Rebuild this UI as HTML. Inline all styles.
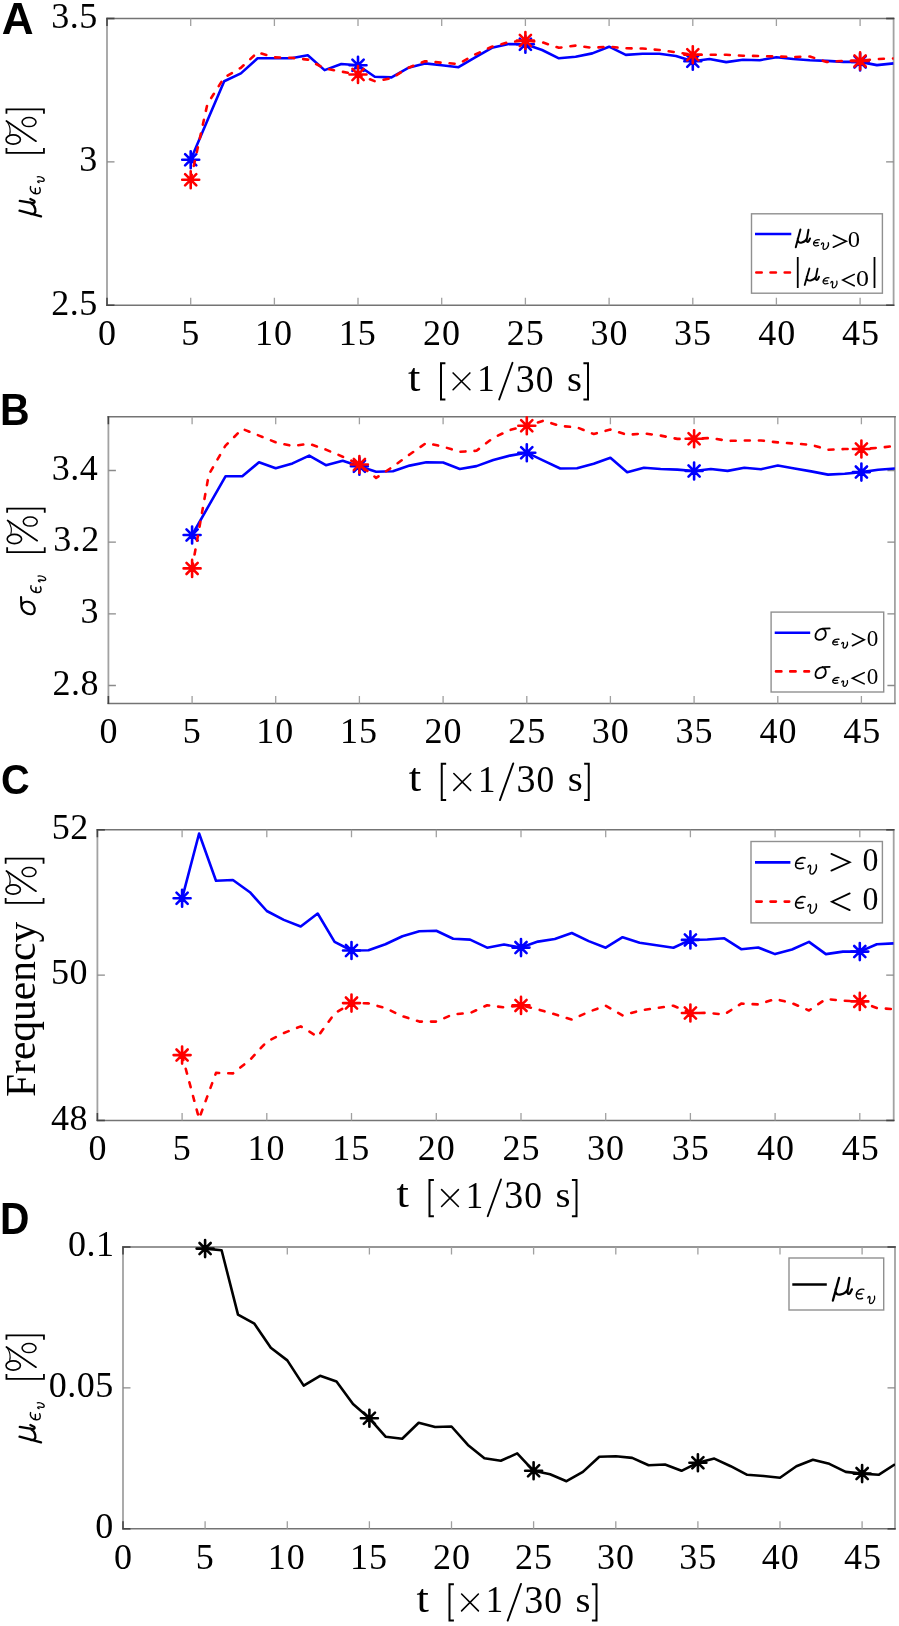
<!DOCTYPE html>
<html><head><meta charset="utf-8"><style>
html,body{margin:0;padding:0;background:#fff;width:899px;height:1626px;overflow:hidden}
svg{display:block;will-change:transform}
text{font-kerning:none}
.fr{font-family:"Liberation Serif",serif;font-size:100px;fill:#000}
.fi{font-family:"Liberation Serif",serif;font-style:italic;font-size:100px;fill:#000}
.fb{font-family:"Liberation Sans",sans-serif;font-weight:bold;font-size:100px;fill:#000}
</style></head><body>
<svg width="899" height="1626" viewBox="0 0 899 1626"><defs><clipPath id="cA"><rect x="107.0" y="6.5" width="786.6" height="298.8"/></clipPath><clipPath id="cB"><rect x="108.4" y="404.8" width="786.5" height="298.6"/></clipPath><clipPath id="cC"><rect x="97.4" y="817.8" width="796.3" height="302.6"/></clipPath><clipPath id="cD"><rect x="123.0" y="1235.0" width="772.0" height="293.8"/></clipPath></defs>
<text class="fb" transform="matrix(0.44120 0 0 0.43605 1.70 34.00)">A</text>
<text class="fb" transform="matrix(0.40993 0 0 0.43605 -0.04 424.70)">B</text>
<text class="fb" transform="matrix(0.39767 0 0 0.43361 1.07 794.48)">C</text>
<text class="fb" transform="matrix(0.40764 0 0 0.43751 -0.03 1234.10)">D</text>
<path d="M107.0 17.8V306.0M893.6 17.8V306.0" stroke="#a2a2a2" stroke-width="1.8" fill="none"/>
<path d="M106.1 18.5H894.5M106.1 305.3H894.5" stroke="#747474" stroke-width="1.5" fill="none"/>
<path d="M107.0 305.3V297.8M107.0 18.5V26.0M190.7 305.3V297.8M190.7 18.5V26.0M274.4 305.3V297.8M274.4 18.5V26.0M358.0 305.3V297.8M358.0 18.5V26.0M441.7 305.3V297.8M441.7 18.5V26.0M525.4 305.3V297.8M525.4 18.5V26.0M609.1 305.3V297.8M609.1 18.5V26.0M692.8 305.3V297.8M692.8 18.5V26.0M776.4 305.3V297.8M776.4 18.5V26.0M860.1 305.3V297.8M860.1 18.5V26.0" stroke="#a0a0a0" stroke-width="1.3" fill="none"/>
<path d="M107.0 305.3H114.5M893.6 305.3H886.1M107.0 161.9H114.5M893.6 161.9H886.1M107.0 18.5H114.5M893.6 18.5H886.1" stroke="#8a8a8a" stroke-width="1.3" fill="none"/>
<path d="M107.0 18.0V26.0M107.0 305.8V297.8M106.5 305.3H114.5M894.1 305.3H886.1M106.5 18.5H114.5M894.1 18.5H886.1" stroke="#444" stroke-width="1.5" fill="none"/>
<text class="fr" style="font-size:36.00px" letter-spacing="1.00" x="98.00" y="345.20">0</text>
<text class="fr" style="font-size:36.00px" letter-spacing="1.00" x="181.34" y="345.20">5</text>
<text class="fr" style="font-size:36.00px" letter-spacing="1.00" x="254.97" y="345.20">10</text>
<text class="fr" style="font-size:36.00px" letter-spacing="1.00" x="338.66" y="345.20">15</text>
<text class="fr" style="font-size:36.00px" letter-spacing="1.00" x="423.12" y="345.20">20</text>
<text class="fr" style="font-size:36.00px" letter-spacing="1.00" x="506.82" y="345.20">25</text>
<text class="fr" style="font-size:36.00px" letter-spacing="1.00" x="590.41" y="345.20">30</text>
<text class="fr" style="font-size:36.00px" letter-spacing="1.00" x="674.11" y="345.20">35</text>
<text class="fr" style="font-size:36.00px" letter-spacing="1.00" x="758.28" y="345.20">40</text>
<text class="fr" style="font-size:36.00px" letter-spacing="1.00" x="841.98" y="345.20">45</text>
<text class="fr" style="font-size:36.00px" letter-spacing="0.50" x="51.21" y="314.50">2.5</text>
<text class="fr" style="font-size:36.00px" letter-spacing="0.50" x="79.21" y="171.10">3</text>
<text class="fr" style="font-size:36.00px" letter-spacing="0.50" x="51.21" y="27.70">3.5</text>
<path d="M108.4 416.1V704.1M894.9 416.1V704.1" stroke="#a2a2a2" stroke-width="1.8" fill="none"/>
<path d="M107.5 416.8H895.8M107.5 703.4H895.8" stroke="#747474" stroke-width="1.5" fill="none"/>
<path d="M108.4 703.4V695.9M108.4 416.8V424.3M192.1 703.4V695.9M192.1 416.8V424.3M275.7 703.4V695.9M275.7 416.8V424.3M359.4 703.4V695.9M359.4 416.8V424.3M443.1 703.4V695.9M443.1 416.8V424.3M526.8 703.4V695.9M526.8 416.8V424.3M610.4 703.4V695.9M610.4 416.8V424.3M694.1 703.4V695.9M694.1 416.8V424.3M777.8 703.4V695.9M777.8 416.8V424.3M861.4 703.4V695.9M861.4 416.8V424.3" stroke="#a0a0a0" stroke-width="1.3" fill="none"/>
<path d="M108.4 685.5H115.9M894.9 685.5H887.4M108.4 613.8H115.9M894.9 613.8H887.4M108.4 542.2H115.9M894.9 542.2H887.4M108.4 470.5H115.9M894.9 470.5H887.4" stroke="#8a8a8a" stroke-width="1.3" fill="none"/>
<path d="M108.4 416.3V424.3M108.4 703.9V695.9" stroke="#444" stroke-width="1.5" fill="none"/>
<text class="fr" style="font-size:36.00px" letter-spacing="1.00" x="99.40" y="743.30">0</text>
<text class="fr" style="font-size:36.00px" letter-spacing="1.00" x="182.73" y="743.30">5</text>
<text class="fr" style="font-size:36.00px" letter-spacing="1.00" x="256.34" y="743.30">10</text>
<text class="fr" style="font-size:36.00px" letter-spacing="1.00" x="340.03" y="743.30">15</text>
<text class="fr" style="font-size:36.00px" letter-spacing="1.00" x="424.48" y="743.30">20</text>
<text class="fr" style="font-size:36.00px" letter-spacing="1.00" x="508.16" y="743.30">25</text>
<text class="fr" style="font-size:36.00px" letter-spacing="1.00" x="591.75" y="743.30">30</text>
<text class="fr" style="font-size:36.00px" letter-spacing="1.00" x="675.43" y="743.30">35</text>
<text class="fr" style="font-size:36.00px" letter-spacing="1.00" x="759.60" y="743.30">40</text>
<text class="fr" style="font-size:36.00px" letter-spacing="1.00" x="843.28" y="743.30">45</text>
<text class="fr" style="font-size:36.00px" letter-spacing="0.50" x="52.57" y="694.69">2.8</text>
<text class="fr" style="font-size:36.00px" letter-spacing="0.50" x="80.61" y="623.04">3</text>
<text class="fr" style="font-size:36.00px" letter-spacing="0.50" x="53.19" y="551.39">3.2</text>
<text class="fr" style="font-size:36.00px" letter-spacing="0.50" x="51.76" y="479.74">3.4</text>
<path d="M97.4 829.1V1121.1M893.7 829.1V1121.1" stroke="#a2a2a2" stroke-width="1.8" fill="none"/>
<path d="M96.5 829.8H894.6M96.5 1120.4H894.6" stroke="#747474" stroke-width="1.5" fill="none"/>
<path d="M97.4 1120.4V1112.9M97.4 829.8V837.3M182.1 1120.4V1112.9M182.1 829.8V837.3M266.8 1120.4V1112.9M266.8 829.8V837.3M351.5 1120.4V1112.9M351.5 829.8V837.3M436.3 1120.4V1112.9M436.3 829.8V837.3M521.0 1120.4V1112.9M521.0 829.8V837.3M605.7 1120.4V1112.9M605.7 829.8V837.3M690.4 1120.4V1112.9M690.4 829.8V837.3M775.1 1120.4V1112.9M775.1 829.8V837.3M859.8 1120.4V1112.9M859.8 829.8V837.3" stroke="#a0a0a0" stroke-width="1.3" fill="none"/>
<path d="M97.4 1120.4H104.9M893.7 1120.4H886.2M97.4 975.1H104.9M893.7 975.1H886.2M97.4 829.8H104.9M893.7 829.8H886.2" stroke="#8a8a8a" stroke-width="1.3" fill="none"/>
<path d="M97.4 829.3V837.3M97.4 1120.9V1112.9M96.9 1120.4H104.9M894.2 1120.4H886.2M96.9 829.8H104.9M894.2 829.8H886.2" stroke="#444" stroke-width="1.5" fill="none"/>
<text class="fr" style="font-size:36.00px" letter-spacing="1.00" x="88.40" y="1160.30">0</text>
<text class="fr" style="font-size:36.00px" letter-spacing="1.00" x="172.77" y="1160.30">5</text>
<text class="fr" style="font-size:36.00px" letter-spacing="1.00" x="247.43" y="1160.30">10</text>
<text class="fr" style="font-size:36.00px" letter-spacing="1.00" x="332.16" y="1160.30">15</text>
<text class="fr" style="font-size:36.00px" letter-spacing="1.00" x="417.65" y="1160.30">20</text>
<text class="fr" style="font-size:36.00px" letter-spacing="1.00" x="502.38" y="1160.30">25</text>
<text class="fr" style="font-size:36.00px" letter-spacing="1.00" x="587.00" y="1160.30">30</text>
<text class="fr" style="font-size:36.00px" letter-spacing="1.00" x="671.73" y="1160.30">35</text>
<text class="fr" style="font-size:36.00px" letter-spacing="1.00" x="756.94" y="1160.30">40</text>
<text class="fr" style="font-size:36.00px" letter-spacing="1.00" x="841.67" y="1160.30">45</text>
<text class="fr" style="font-size:36.00px" letter-spacing="0.50" x="51.07" y="1129.60">48</text>
<text class="fr" style="font-size:36.00px" letter-spacing="0.50" x="51.07" y="984.30">50</text>
<text class="fr" style="font-size:36.00px" letter-spacing="0.50" x="51.69" y="839.00">52</text>
<path d="M123.0 1246.3V1529.5M895.0 1246.3V1529.5" stroke="#a2a2a2" stroke-width="1.8" fill="none"/>
<path d="M122.1 1247.0H895.9M122.1 1528.8H895.9" stroke="#747474" stroke-width="1.5" fill="none"/>
<path d="M123.0 1528.8V1521.3M123.0 1247.0V1254.5M205.1 1528.8V1521.3M205.1 1247.0V1254.5M287.3 1528.8V1521.3M287.3 1247.0V1254.5M369.4 1528.8V1521.3M369.4 1247.0V1254.5M451.5 1528.8V1521.3M451.5 1247.0V1254.5M533.6 1528.8V1521.3M533.6 1247.0V1254.5M615.8 1528.8V1521.3M615.8 1247.0V1254.5M697.9 1528.8V1521.3M697.9 1247.0V1254.5M780.0 1528.8V1521.3M780.0 1247.0V1254.5M862.1 1528.8V1521.3M862.1 1247.0V1254.5" stroke="#a0a0a0" stroke-width="1.3" fill="none"/>
<path d="M123.0 1528.8H130.5M895.0 1528.8H887.5M123.0 1387.9H130.5M895.0 1387.9H887.5M123.0 1247.0H130.5M895.0 1247.0H887.5" stroke="#8a8a8a" stroke-width="1.3" fill="none"/>
<path d="M123.0 1246.5V1254.5M123.0 1529.3V1521.3M122.5 1528.8H130.5M895.5 1528.8H887.5M122.5 1247.0H130.5M895.5 1247.0H887.5" stroke="#444" stroke-width="1.5" fill="none"/>
<text class="fr" style="font-size:36.00px" letter-spacing="1.00" x="114.00" y="1568.70">0</text>
<text class="fr" style="font-size:36.00px" letter-spacing="1.00" x="195.78" y="1568.70">5</text>
<text class="fr" style="font-size:36.00px" letter-spacing="1.00" x="267.86" y="1568.70">10</text>
<text class="fr" style="font-size:36.00px" letter-spacing="1.00" x="350.00" y="1568.70">15</text>
<text class="fr" style="font-size:36.00px" letter-spacing="1.00" x="432.91" y="1568.70">20</text>
<text class="fr" style="font-size:36.00px" letter-spacing="1.00" x="515.05" y="1568.70">25</text>
<text class="fr" style="font-size:36.00px" letter-spacing="1.00" x="597.09" y="1568.70">30</text>
<text class="fr" style="font-size:36.00px" letter-spacing="1.00" x="679.24" y="1568.70">35</text>
<text class="fr" style="font-size:36.00px" letter-spacing="1.00" x="761.86" y="1568.70">40</text>
<text class="fr" style="font-size:36.00px" letter-spacing="1.00" x="844.00" y="1568.70">45</text>
<text class="fr" style="font-size:36.00px" letter-spacing="0.50" x="95.17" y="1538.00">0</text>
<text class="fr" style="font-size:36.00px" letter-spacing="0.50" x="48.71" y="1397.10">0.05</text>
<text class="fr" style="font-size:36.00px" letter-spacing="0.50" x="67.96" y="1256.20">0.1</text>
<g clip-path="url(#cA)">
<polyline points="190.7,159.7 207.4,120.4 224.2,81.2 240.9,73.4 257.6,58.3 274.4,58.3 291.1,58.3 307.8,55.2 324.6,70.1 341.3,64.0 358.0,65.2 374.8,76.7 391.5,77.4 408.3,67.8 425.0,63.4 441.7,65.2 458.5,67.2 475.2,57.4 491.9,47.8 508.7,44.0 525.4,44.3 542.1,50.0 558.9,58.3 575.6,56.7 592.3,53.4 609.1,46.7 625.8,54.9 642.6,53.8 659.3,53.8 676.0,56.0 692.8,61.3 709.5,59.0 726.2,62.1 743.0,59.7 759.7,60.2 776.4,57.3 793.2,59.0 809.9,60.2 826.7,60.9 843.4,61.9 860.1,61.9 876.9,65.1 893.6,63.4" fill="none" stroke="#0000ff" stroke-width="2.6" stroke-linejoin="round"/>
<path d="M182.2 159.7H199.2M190.7 151.2V168.2M185.1 154.1L196.3 165.3M185.1 165.3L196.3 154.1" stroke="#0000ff" stroke-width="2.6" stroke-linecap="round" fill="none"/>
<path d="M349.5 65.2H366.5M358.0 56.7V73.7M352.4 59.6L363.7 70.8M352.4 70.8L363.7 59.6" stroke="#0000ff" stroke-width="2.6" stroke-linecap="round" fill="none"/>
<path d="M516.9 44.3H533.9M525.4 35.8V52.8M519.8 38.7L531.0 49.9M519.8 49.9L531.0 38.7" stroke="#0000ff" stroke-width="2.6" stroke-linecap="round" fill="none"/>
<path d="M684.3 61.3H701.3M692.8 52.8V69.8M687.2 55.7L698.4 66.9M687.2 66.9L698.4 55.7" stroke="#0000ff" stroke-width="2.6" stroke-linecap="round" fill="none"/>
<path d="M851.6 61.9H868.6M860.1 53.4V70.4M854.5 56.3L865.7 67.5M854.5 67.5L865.7 56.3" stroke="#0000ff" stroke-width="2.6" stroke-linecap="round" fill="none"/>
<polyline points="190.7,179.7 207.4,104.0 224.2,77.5 240.9,67.8 257.6,52.3 274.4,57.4 291.1,57.8 307.8,59.6 324.6,68.5 341.3,71.6 358.0,74.5 374.8,81.2 391.5,78.3 408.3,67.8 425.0,61.2 441.7,62.7 458.5,64.0 475.2,54.5 491.9,46.7 508.7,42.2 525.4,40.5 542.1,42.2 558.9,47.8 575.6,45.6 592.3,47.8 609.1,46.7 625.8,48.3 642.6,48.5 659.3,50.0 676.0,52.3 692.8,54.8 709.5,54.8 726.2,54.8 743.0,55.8 759.7,56.0 776.4,56.5 793.2,57.0 809.9,56.5 826.7,61.9 843.4,60.9 860.1,60.9 876.9,59.0 893.6,58.5" fill="none" stroke="#ff0000" stroke-width="2.6" stroke-linejoin="round" stroke-dasharray="5,9.1" stroke-linecap="round"/>
<path d="M182.2 179.7H199.2M190.7 171.2V188.2M185.1 174.1L196.3 185.3M185.1 185.3L196.3 174.1" stroke="#ff0000" stroke-width="2.6" stroke-linecap="round" fill="none"/>
<path d="M349.5 74.5H366.5M358.0 66.0V83.0M352.4 68.9L363.7 80.1M352.4 80.1L363.7 68.9" stroke="#ff0000" stroke-width="2.6" stroke-linecap="round" fill="none"/>
<path d="M516.9 40.5H533.9M525.4 32.0V49.0M519.8 34.9L531.0 46.1M519.8 46.1L531.0 34.9" stroke="#ff0000" stroke-width="2.6" stroke-linecap="round" fill="none"/>
<path d="M684.3 54.8H701.3M692.8 46.3V63.3M687.2 49.2L698.4 60.4M687.2 60.4L698.4 49.2" stroke="#ff0000" stroke-width="2.6" stroke-linecap="round" fill="none"/>
<path d="M851.6 60.9H868.6M860.1 52.4V69.4M854.5 55.3L865.7 66.5M854.5 66.5L865.7 55.3" stroke="#ff0000" stroke-width="2.6" stroke-linecap="round" fill="none"/>
</g>
<g clip-path="url(#cB)">
<polyline points="192.1,535.0 208.8,505.6 225.5,476.3 242.3,476.3 259.0,462.3 275.7,468.3 292.5,463.4 309.2,455.6 325.9,465.2 342.7,460.7 359.4,466.2 376.1,471.8 392.9,471.2 409.6,465.6 426.3,462.3 443.1,462.5 459.8,469.0 476.5,466.1 493.3,460.0 510.0,455.6 526.8,452.7 543.5,460.7 560.2,468.5 577.0,468.3 593.7,463.8 610.4,457.8 627.2,472.3 643.9,467.8 660.6,469.0 677.4,469.6 694.1,471.0 710.8,469.0 727.6,470.9 744.3,467.7 761.0,469.2 777.8,465.5 794.5,468.5 811.2,471.4 828.0,474.6 844.7,473.8 861.4,472.1 878.2,469.7 894.9,468.5" fill="none" stroke="#0000ff" stroke-width="2.6" stroke-linejoin="round"/>
<path d="M183.6 535.0H200.6M192.1 526.5V543.5M186.5 529.4L197.7 540.6M186.5 540.6L197.7 529.4" stroke="#0000ff" stroke-width="2.6" stroke-linecap="round" fill="none"/>
<path d="M350.9 466.2H367.9M359.4 457.7V474.7M353.8 460.6L365.0 471.8M353.8 471.8L365.0 460.6" stroke="#0000ff" stroke-width="2.6" stroke-linecap="round" fill="none"/>
<path d="M518.3 452.7H535.3M526.8 444.2V461.2M521.1 447.1L532.4 458.3M521.1 458.3L532.4 447.1" stroke="#0000ff" stroke-width="2.6" stroke-linecap="round" fill="none"/>
<path d="M685.6 471.0H702.6M694.1 462.5V479.5M688.5 465.4L699.7 476.6M688.5 476.6L699.7 465.4" stroke="#0000ff" stroke-width="2.6" stroke-linecap="round" fill="none"/>
<path d="M852.9 472.1H869.9M861.4 463.6V480.6M855.8 466.5L867.0 477.7M855.8 477.7L867.0 466.5" stroke="#0000ff" stroke-width="2.6" stroke-linecap="round" fill="none"/>
<polyline points="192.1,568.4 208.8,474.5 225.5,445.6 242.3,428.9 259.0,435.6 275.7,442.3 292.5,446.0 309.2,443.8 325.9,449.6 342.7,456.7 359.4,464.5 376.1,477.9 392.9,466.7 409.6,454.5 426.3,442.9 443.1,446.7 459.8,451.8 476.5,450.7 493.3,437.8 510.0,430.0 526.8,425.8 543.5,420.7 560.2,426.0 577.0,427.4 593.7,434.0 610.4,429.6 627.2,434.9 643.9,433.4 660.6,435.6 677.4,438.9 694.1,438.8 710.8,438.0 727.6,440.9 744.3,440.5 761.0,440.5 777.8,442.4 794.5,443.6 811.2,444.8 828.0,449.7 844.7,449.0 861.4,449.0 878.2,447.8 894.9,446.0" fill="none" stroke="#ff0000" stroke-width="2.6" stroke-linejoin="round" stroke-dasharray="5,9.1" stroke-linecap="round"/>
<path d="M183.6 568.4H200.6M192.1 559.9V576.9M186.5 562.8L197.7 574.0M186.5 574.0L197.7 562.8" stroke="#ff0000" stroke-width="2.6" stroke-linecap="round" fill="none"/>
<path d="M350.9 464.5H367.9M359.4 456.0V473.0M353.8 458.9L365.0 470.1M353.8 470.1L365.0 458.9" stroke="#ff0000" stroke-width="2.6" stroke-linecap="round" fill="none"/>
<path d="M518.3 425.8H535.3M526.8 417.3V434.3M521.1 420.2L532.4 431.4M521.1 431.4L532.4 420.2" stroke="#ff0000" stroke-width="2.6" stroke-linecap="round" fill="none"/>
<path d="M685.6 438.8H702.6M694.1 430.3V447.3M688.5 433.2L699.7 444.4M688.5 444.4L699.7 433.2" stroke="#ff0000" stroke-width="2.6" stroke-linecap="round" fill="none"/>
<path d="M852.9 449.0H869.9M861.4 440.5V457.5M855.8 443.4L867.0 454.6M855.8 454.6L867.0 443.4" stroke="#ff0000" stroke-width="2.6" stroke-linecap="round" fill="none"/>
</g>
<g clip-path="url(#cC)">
<polyline points="182.1,898.3 199.1,833.5 216.0,880.7 232.9,880.0 249.9,892.2 266.8,911.0 283.8,919.9 300.7,926.5 317.7,913.5 334.6,941.9 351.5,950.5 368.5,950.3 385.4,944.2 402.4,936.2 419.3,931.3 436.3,930.8 453.2,938.7 470.1,939.6 487.1,947.7 504.0,944.5 521.0,947.6 537.9,941.6 554.8,939.0 571.8,933.0 588.7,941.1 605.7,947.7 622.6,937.2 639.6,942.8 656.5,945.3 673.4,947.7 690.4,939.9 707.3,939.5 724.3,938.3 741.2,949.2 758.2,947.5 775.1,954.1 792.0,949.5 809.0,941.9 825.9,954.1 842.9,951.6 859.8,951.6 876.8,944.3 893.7,943.4" fill="none" stroke="#0000ff" stroke-width="2.6" stroke-linejoin="round"/>
<path d="M173.6 898.3H190.6M182.1 889.8V906.8M176.5 892.7L187.7 903.9M176.5 903.9L187.7 892.7" stroke="#0000ff" stroke-width="2.6" stroke-linecap="round" fill="none"/>
<path d="M343.0 950.5H360.0M351.5 942.0V959.0M345.9 944.9L357.1 956.1M345.9 956.1L357.1 944.9" stroke="#0000ff" stroke-width="2.6" stroke-linecap="round" fill="none"/>
<path d="M512.5 947.6H529.5M521.0 939.1V956.1M515.4 942.0L526.6 953.2M515.4 953.2L526.6 942.0" stroke="#0000ff" stroke-width="2.6" stroke-linecap="round" fill="none"/>
<path d="M681.9 939.9H698.9M690.4 931.4V948.4M684.8 934.3L696.0 945.5M684.8 945.5L696.0 934.3" stroke="#0000ff" stroke-width="2.6" stroke-linecap="round" fill="none"/>
<path d="M851.3 951.6H868.3M859.8 943.1V960.1M854.2 946.0L865.4 957.2M854.2 957.2L865.4 946.0" stroke="#0000ff" stroke-width="2.6" stroke-linecap="round" fill="none"/>
<polyline points="182.1,1055.1 199.1,1118.7 216.0,1072.9 232.9,1073.4 249.9,1060.0 266.8,1041.6 283.8,1033.0 300.7,1026.4 317.7,1036.7 334.6,1013.5 351.5,1003.1 368.5,1003.4 385.4,1008.1 402.4,1016.2 419.3,1021.6 436.3,1021.6 453.2,1014.3 470.1,1013.0 487.1,1005.2 504.0,1007.4 521.0,1005.4 537.9,1009.4 554.8,1014.3 571.8,1019.6 588.7,1011.8 605.7,1005.7 622.6,1015.5 639.6,1010.6 656.5,1008.1 673.4,1005.7 690.4,1013.0 707.3,1012.9 724.3,1014.5 741.2,1003.6 758.2,1004.4 775.1,999.0 792.0,1003.1 809.0,1010.5 825.9,999.0 842.9,1000.7 859.8,1001.4 876.8,1008.0 893.7,1009.2" fill="none" stroke="#ff0000" stroke-width="2.6" stroke-linejoin="round" stroke-dasharray="5,9.1" stroke-linecap="round"/>
<path d="M173.6 1055.1H190.6M182.1 1046.6V1063.6M176.5 1049.5L187.7 1060.7M176.5 1060.7L187.7 1049.5" stroke="#ff0000" stroke-width="2.6" stroke-linecap="round" fill="none"/>
<path d="M343.0 1003.1H360.0M351.5 994.6V1011.6M345.9 997.5L357.1 1008.7M345.9 1008.7L357.1 997.5" stroke="#ff0000" stroke-width="2.6" stroke-linecap="round" fill="none"/>
<path d="M512.5 1005.4H529.5M521.0 996.9V1013.9M515.4 999.8L526.6 1011.0M515.4 1011.0L526.6 999.8" stroke="#ff0000" stroke-width="2.6" stroke-linecap="round" fill="none"/>
<path d="M681.9 1013.0H698.9M690.4 1004.5V1021.5M684.8 1007.4L696.0 1018.6M684.8 1018.6L696.0 1007.4" stroke="#ff0000" stroke-width="2.6" stroke-linecap="round" fill="none"/>
<path d="M851.3 1001.4H868.3M859.8 992.9V1009.9M854.2 995.8L865.4 1007.0M854.2 1007.0L865.4 995.8" stroke="#ff0000" stroke-width="2.6" stroke-linecap="round" fill="none"/>
</g>
<g clip-path="url(#cD)">
<polyline points="205.1,1248.6 221.6,1250.3 238.0,1314.6 254.4,1323.7 270.8,1347.7 287.3,1360.4 303.7,1385.6 320.1,1375.8 336.5,1381.5 353.0,1404.0 369.4,1418.3 385.8,1436.8 402.2,1438.7 418.7,1422.8 435.1,1427.0 451.5,1426.5 467.9,1444.9 484.4,1458.3 500.8,1460.8 517.2,1453.4 533.6,1470.8 550.1,1474.3 566.5,1481.2 582.9,1471.9 599.3,1456.7 615.8,1456.2 632.2,1457.9 648.6,1465.3 665.0,1464.5 681.5,1470.8 697.9,1462.7 714.3,1458.6 730.7,1466.2 747.2,1474.8 763.6,1476.0 780.0,1477.7 796.4,1466.3 812.9,1459.7 829.3,1463.8 845.7,1471.9 862.1,1473.6 878.6,1474.8 895.0,1464.3" fill="none" stroke="#000" stroke-width="2.6" stroke-linejoin="round"/>
<path d="M196.6 1248.6H213.6M205.1 1240.1V1257.1M199.5 1243.0L210.7 1254.2M199.5 1254.2L210.7 1243.0" stroke="#000" stroke-width="2.6" stroke-linecap="round" fill="none"/>
<path d="M360.9 1418.3H377.9M369.4 1409.8V1426.8M363.8 1412.7L375.0 1423.9M363.8 1423.9L375.0 1412.7" stroke="#000" stroke-width="2.6" stroke-linecap="round" fill="none"/>
<path d="M525.1 1470.8H542.1M533.6 1462.3V1479.3M528.0 1465.2L539.2 1476.4M528.0 1476.4L539.2 1465.2" stroke="#000" stroke-width="2.6" stroke-linecap="round" fill="none"/>
<path d="M689.4 1462.7H706.4M697.9 1454.2V1471.2M692.3 1457.1L703.5 1468.3M692.3 1468.3L703.5 1457.1" stroke="#000" stroke-width="2.6" stroke-linecap="round" fill="none"/>
<path d="M853.6 1473.6H870.6M862.1 1465.1V1482.1M856.5 1468.0L867.8 1479.2M856.5 1479.2L867.8 1468.0" stroke="#000" stroke-width="2.6" stroke-linecap="round" fill="none"/>
</g>
<text class="fr" transform="matrix(0.44621 0 0 0.41030 408.06 390.60)">t</text>
<path d="M445.40 363.20H441.00V399.50H445.40" fill="none" stroke="#000" stroke-width="2.00" stroke-linecap="butt" stroke-linejoin="miter"/>
<path d="M453.10 372.95L469.90 389.75M453.10 389.75L469.90 372.95" fill="none" stroke="#000" stroke-width="1.60" stroke-linecap="round" stroke-linejoin="miter"/>
<text class="fr" transform="matrix(0.34938 0 0 0.38173 477.13 391.00)">1</text>
<path d="M499.20 399.50L512.50 362.80" fill="none" stroke="#000" stroke-width="1.90" stroke-linecap="round" stroke-linejoin="miter"/>
<text class="fr" transform="matrix(0.38007 0 0 0.39442 515.68 391.61)">3</text>
<text class="fr" transform="matrix(0.35392 0 0 0.38826 535.85 391.62)">0</text>
<text class="fr" transform="matrix(0.38460 0 0 0.35554 566.92 390.65)">s</text>
<path d="M583.40 363.20H588.00V399.50H583.40" fill="none" stroke="#000" stroke-width="2.00" stroke-linecap="butt" stroke-linejoin="miter"/>
<text class="fr" transform="matrix(0.44621 0 0 0.41030 408.81 791.20)">t</text>
<path d="M446.15 763.80H441.75V800.10H446.15" fill="none" stroke="#000" stroke-width="2.00" stroke-linecap="butt" stroke-linejoin="miter"/>
<path d="M453.85 773.55L470.65 790.35M453.85 790.35L470.65 773.55" fill="none" stroke="#000" stroke-width="1.60" stroke-linecap="round" stroke-linejoin="miter"/>
<text class="fr" transform="matrix(0.34938 0 0 0.38173 477.88 791.60)">1</text>
<path d="M499.95 800.10L513.25 763.40" fill="none" stroke="#000" stroke-width="1.90" stroke-linecap="round" stroke-linejoin="miter"/>
<text class="fr" transform="matrix(0.38007 0 0 0.39442 516.43 792.21)">3</text>
<text class="fr" transform="matrix(0.35392 0 0 0.38826 536.60 792.22)">0</text>
<text class="fr" transform="matrix(0.38460 0 0 0.35554 567.67 791.25)">s</text>
<path d="M584.15 763.80H588.75V800.10H584.15" fill="none" stroke="#000" stroke-width="2.00" stroke-linecap="butt" stroke-linejoin="miter"/>
<text class="fr" transform="matrix(0.44621 0 0 0.41030 396.56 1207.30)">t</text>
<path d="M433.90 1179.90H429.50V1216.20H433.90" fill="none" stroke="#000" stroke-width="2.00" stroke-linecap="butt" stroke-linejoin="miter"/>
<path d="M441.60 1189.65L458.40 1206.45M441.60 1206.45L458.40 1189.65" fill="none" stroke="#000" stroke-width="1.60" stroke-linecap="round" stroke-linejoin="miter"/>
<text class="fr" transform="matrix(0.34938 0 0 0.38173 465.63 1207.70)">1</text>
<path d="M487.70 1216.20L501.00 1179.50" fill="none" stroke="#000" stroke-width="1.90" stroke-linecap="round" stroke-linejoin="miter"/>
<text class="fr" transform="matrix(0.38007 0 0 0.39442 504.18 1208.31)">3</text>
<text class="fr" transform="matrix(0.35392 0 0 0.38826 524.35 1208.32)">0</text>
<text class="fr" transform="matrix(0.38460 0 0 0.35554 555.42 1207.35)">s</text>
<path d="M571.90 1179.90H576.50V1216.20H571.90" fill="none" stroke="#000" stroke-width="2.00" stroke-linecap="butt" stroke-linejoin="miter"/>
<text class="fr" transform="matrix(0.44621 0 0 0.41030 416.56 1611.70)">t</text>
<path d="M453.90 1584.30H449.50V1620.60H453.90" fill="none" stroke="#000" stroke-width="2.00" stroke-linecap="butt" stroke-linejoin="miter"/>
<path d="M461.60 1594.05L478.40 1610.85M461.60 1610.85L478.40 1594.05" fill="none" stroke="#000" stroke-width="1.60" stroke-linecap="round" stroke-linejoin="miter"/>
<text class="fr" transform="matrix(0.34938 0 0 0.38173 485.63 1612.10)">1</text>
<path d="M507.70 1620.60L521.00 1583.90" fill="none" stroke="#000" stroke-width="1.90" stroke-linecap="round" stroke-linejoin="miter"/>
<text class="fr" transform="matrix(0.38007 0 0 0.39442 524.18 1612.71)">3</text>
<text class="fr" transform="matrix(0.35392 0 0 0.38826 544.35 1612.72)">0</text>
<text class="fr" transform="matrix(0.38460 0 0 0.35554 575.42 1611.75)">s</text>
<path d="M591.90 1584.30H596.50V1620.60H591.90" fill="none" stroke="#000" stroke-width="2.00" stroke-linecap="butt" stroke-linejoin="miter"/>
<path d="M6.45 113.80V109.40H43.95V113.80" fill="none" stroke="#000" stroke-width="1.80" stroke-linecap="butt" stroke-linejoin="miter"/>
<path d="M6.40 121.00L36.00 141.20" fill="none" stroke="#000" stroke-width="1.70" stroke-linecap="round" stroke-linejoin="miter"/><ellipse cx="29.05" cy="122.10" rx="7.0" ry="4.5" fill="none" stroke="#000" stroke-width="1.5"/><ellipse cx="13.20" cy="139.50" rx="7.2" ry="4.6" fill="none" stroke="#000" stroke-width="1.6"/><path d="M7.00 121.50Q11.50 128.00 9.60 134.80" fill="none" stroke="#000" stroke-width="1.10" stroke-linecap="butt" stroke-linejoin="miter"/>
<path d="M6.45 148.00V152.90H43.95V148.00" fill="none" stroke="#000" stroke-width="1.80" stroke-linecap="butt" stroke-linejoin="miter"/>
<path d="M 39.06 182.66 C 37.32 182.21 37.01 180.67 39.22 180.80 C 40.64 180.93 42.06 181.44 43.17 181.25 C 44.59 181.06 44.75 179.33 43.01 178.11 C 41.20 176.90 38.83 176.45 37.32 176.90" fill="none" stroke="#000" stroke-width="1.30" stroke-linecap="round" stroke-linejoin="round"/>
<path d="M 30.57 186.61 C 29.52 189.55 31.62 193.30 36.28 193.79 C 40.01 194.12 41.18 191.18 39.66 187.75 M 35.35 193.14 L 35.35 188.41" fill="none" stroke="#000" stroke-width="1.44" stroke-linecap="round" stroke-linejoin="round"/>
<path d="M 19.54 210.73 L 41.03 216.41 M 30.40 213.95 C 34.56 214.51 35.94 212.25 35.25 209.03 C 34.56 206.01 32.71 203.93 30.40 202.80 M 19.77 200.91 L 31.55 202.99 C 34.33 203.55 35.48 202.04 33.86 200.72 L 30.40 199.02" fill="none" stroke="#000" stroke-width="2.30" stroke-linecap="round" stroke-linejoin="round"/>
<path d="M6.45 1339.80V1335.40H43.95V1339.80" fill="none" stroke="#000" stroke-width="1.80" stroke-linecap="butt" stroke-linejoin="miter"/>
<path d="M6.40 1347.00L36.00 1367.20" fill="none" stroke="#000" stroke-width="1.70" stroke-linecap="round" stroke-linejoin="miter"/><ellipse cx="29.05" cy="1348.10" rx="7.0" ry="4.5" fill="none" stroke="#000" stroke-width="1.5"/><ellipse cx="13.20" cy="1365.50" rx="7.2" ry="4.6" fill="none" stroke="#000" stroke-width="1.6"/><path d="M7.00 1347.50Q11.50 1354.00 9.60 1360.80" fill="none" stroke="#000" stroke-width="1.10" stroke-linecap="butt" stroke-linejoin="miter"/>
<path d="M6.45 1374.00V1378.90H43.95V1374.00" fill="none" stroke="#000" stroke-width="1.80" stroke-linecap="butt" stroke-linejoin="miter"/>
<path d="M 39.06 1408.66 C 37.32 1408.21 37.01 1406.67 39.22 1406.80 C 40.64 1406.93 42.06 1407.44 43.17 1407.25 C 44.59 1407.06 44.75 1405.33 43.01 1404.11 C 41.20 1402.90 38.83 1402.45 37.32 1402.90" fill="none" stroke="#000" stroke-width="1.30" stroke-linecap="round" stroke-linejoin="round"/>
<path d="M 30.57 1412.61 C 29.52 1415.55 31.62 1419.30 36.28 1419.79 C 40.01 1420.12 41.18 1417.18 39.66 1413.75 M 35.35 1419.14 L 35.35 1414.41" fill="none" stroke="#000" stroke-width="1.44" stroke-linecap="round" stroke-linejoin="round"/>
<path d="M 19.54 1436.73 L 41.03 1442.40 M 30.40 1439.95 C 34.56 1440.51 35.94 1438.25 35.25 1435.03 C 34.56 1432.01 32.71 1429.93 30.40 1428.80 M 19.77 1426.91 L 31.55 1428.99 C 34.33 1429.55 35.48 1428.04 33.86 1426.72 L 30.40 1425.02" fill="none" stroke="#000" stroke-width="2.30" stroke-linecap="round" stroke-linejoin="round"/>
<path d="M7.15 512.70V508.60H44.75V512.70" fill="none" stroke="#000" stroke-width="1.80" stroke-linecap="butt" stroke-linejoin="miter"/>
<path d="M7.60 520.50L37.20 540.70" fill="none" stroke="#000" stroke-width="1.70" stroke-linecap="round" stroke-linejoin="miter"/><ellipse cx="30.25" cy="521.60" rx="7.0" ry="4.5" fill="none" stroke="#000" stroke-width="1.5"/><ellipse cx="14.40" cy="539.00" rx="7.2" ry="4.6" fill="none" stroke="#000" stroke-width="1.6"/><path d="M8.20 521.00Q12.70 527.50 10.80 534.30" fill="none" stroke="#000" stroke-width="1.10" stroke-linecap="butt" stroke-linejoin="miter"/>
<path d="M7.15 547.30V552.20H44.75V547.30" fill="none" stroke="#000" stroke-width="1.80" stroke-linecap="butt" stroke-linejoin="miter"/>
<path d="M 39.99 581.86 C 38.07 581.41 37.72 579.87 40.16 580.00 C 41.73 580.13 43.29 580.64 44.51 580.45 C 46.08 580.26 46.25 578.53 44.34 577.31 C 42.33 576.10 39.72 575.65 38.07 576.10" fill="none" stroke="#000" stroke-width="1.30" stroke-linecap="round" stroke-linejoin="round"/>
<path d="M 31.02 585.81 C 29.94 588.58 32.11 592.13 36.91 592.59 C 40.76 592.90 41.96 590.13 40.40 586.89 M 35.95 591.98 L 35.95 587.50" fill="none" stroke="#000" stroke-width="1.49" stroke-linecap="round" stroke-linejoin="round"/>
<path d="M 21.04 597.02 L 21.35 605.80 C 21.66 611.40 26.80 614.39 30.85 614.20 C 35.06 614.02 35.84 608.97 33.35 604.87 C 29.92 600.20 22.13 600.94 21.51 606.17" fill="none" stroke="#000" stroke-width="2.12" stroke-linecap="round" stroke-linejoin="round"/>
<path d="M5.65 863.80V858.60H43.55V863.80" fill="none" stroke="#000" stroke-width="1.80" stroke-linecap="butt" stroke-linejoin="miter"/>
<path d="M6.40 871.00L36.00 891.20" fill="none" stroke="#000" stroke-width="1.70" stroke-linecap="round" stroke-linejoin="miter"/><ellipse cx="29.05" cy="872.10" rx="7.0" ry="4.5" fill="none" stroke="#000" stroke-width="1.5"/><ellipse cx="13.20" cy="889.50" rx="7.2" ry="4.6" fill="none" stroke="#000" stroke-width="1.6"/><path d="M7.00 871.50Q11.50 878.00 9.60 884.80" fill="none" stroke="#000" stroke-width="1.10" stroke-linecap="butt" stroke-linejoin="miter"/>
<path d="M5.65 898.10V902.90H43.55V898.10" fill="none" stroke="#000" stroke-width="1.80" stroke-linecap="butt" stroke-linejoin="miter"/>
<text class="fr" transform="matrix(0 -0.41524 0.41693 0 35.00 1097.00)">Frequency</text>
<rect x="751.5" y="213.8" width="130.9" height="79.4" fill="#fff" stroke="#909090" stroke-width="1.4"/>
<line x1="755.0" y1="234.0" x2="791.3" y2="234.0" stroke="#0000ff" stroke-width="2.6"/>
<line x1="756.3" y1="272.5" x2="790.0" y2="272.5" stroke="#ff0000" stroke-width="2.6" stroke-dasharray="5.4,8.8" stroke-linecap="round"/>
<path d="M 800.42 229.57 L 795.77 247.24 M 797.79 238.50 C 797.32 241.92 799.18 243.06 801.82 242.49 C 804.30 241.92 806.01 240.40 806.94 238.50 M 808.49 229.76 L 806.78 239.45 C 806.32 241.73 807.56 242.68 808.64 241.35 L 810.04 238.50" fill="none" stroke="#000" stroke-width="2.00" stroke-linecap="round" stroke-linejoin="round"/>
<path d="M 819.45 239.80 C 817.04 239.15 813.95 240.45 813.55 243.33 C 813.28 245.63 815.70 246.35 818.51 245.41 M 814.09 242.75 L 817.97 242.75" fill="none" stroke="#000" stroke-width="1.30" stroke-linecap="round" stroke-linejoin="round"/>
<path d="M 821.38 244.31 C 821.92 242.61 823.77 242.30 823.61 244.46 C 823.46 245.85 822.84 247.23 823.07 248.31 C 823.31 249.70 825.38 249.85 826.85 248.16 C 828.31 246.39 828.85 244.08 828.31 242.61" fill="none" stroke="#000" stroke-width="1.30" stroke-linecap="round" stroke-linejoin="round"/>
<path d="M833.30 235.30L846.20 241.25L833.30 247.20" fill="none" stroke="#000" stroke-width="1.60" stroke-linecap="round" stroke-linejoin="miter"/>
<text class="fr" transform="matrix(0.24538 0 0 0.22970 847.67 247.28)">0</text>
<path d="M797.75 257.00V288.00" fill="none" stroke="#000" stroke-width="1.80" stroke-linecap="butt" stroke-linejoin="miter"/>
<path d="M 809.40 268.46 L 804.71 284.96 M 806.75 276.80 C 806.28 279.99 808.15 281.06 810.81 280.52 C 813.31 279.99 815.03 278.57 815.97 276.80 M 817.54 268.64 L 815.82 277.69 C 815.35 279.82 816.60 280.70 817.69 279.46 L 819.10 276.80" fill="none" stroke="#000" stroke-width="1.86" stroke-linecap="round" stroke-linejoin="round"/>
<path d="M 828.95 277.89 C 826.54 277.25 823.45 278.53 823.05 281.37 C 822.78 283.64 825.20 284.35 828.01 283.43 M 823.59 280.80 L 827.47 280.80" fill="none" stroke="#000" stroke-width="1.30" stroke-linecap="round" stroke-linejoin="round"/>
<path d="M 830.85 282.81 C 831.32 281.11 832.93 280.80 832.79 282.96 C 832.66 284.35 832.12 285.73 832.32 286.81 C 832.53 288.20 834.33 288.35 835.61 286.66 C 836.88 284.88 837.35 282.57 836.88 281.11" fill="none" stroke="#000" stroke-width="1.30" stroke-linecap="round" stroke-linejoin="round"/>
<path d="M854.20 274.40L842.80 280.10L854.20 285.80" fill="none" stroke="#000" stroke-width="1.60" stroke-linecap="round" stroke-linejoin="miter"/>
<text class="fr" transform="matrix(0.25954 0 0 0.23711 856.01 285.77)">0</text>
<path d="M874.50 257.00V288.00" fill="none" stroke="#000" stroke-width="1.80" stroke-linecap="butt" stroke-linejoin="miter"/>
<rect x="771.1" y="612.1" width="112.6" height="79.9" fill="#fff" stroke="#909090" stroke-width="1.4"/>
<line x1="774.7" y1="632.8" x2="810.2" y2="632.8" stroke="#0000ff" stroke-width="2.6"/>
<line x1="776.0" y1="671.4" x2="809.0" y2="671.4" stroke="#ff0000" stroke-width="2.6" stroke-dasharray="5.4,8.8" stroke-linecap="round"/>
<path d="M 829.75 628.43 L 822.45 628.69 C 817.79 628.95 815.30 633.22 815.46 636.58 C 815.61 640.07 819.81 640.72 823.23 638.65 C 827.11 635.80 826.49 629.33 822.14 628.82" fill="none" stroke="#000" stroke-width="1.76" stroke-linecap="round" stroke-linejoin="round"/>
<path d="M 838.92 639.25 C 836.37 638.65 833.10 639.86 832.68 642.54 C 832.39 644.68 834.95 645.35 837.93 644.48 M 833.24 642.00 L 837.36 642.00" fill="none" stroke="#000" stroke-width="1.30" stroke-linecap="round" stroke-linejoin="round"/>
<path d="M 841.74 643.63 C 842.18 642.15 843.69 641.88 843.57 643.76 C 843.44 644.97 842.94 646.17 843.12 647.11 C 843.31 648.32 845.01 648.45 846.21 646.98 C 847.41 645.43 847.85 643.42 847.41 642.15" fill="none" stroke="#000" stroke-width="1.30" stroke-linecap="round" stroke-linejoin="round"/>
<path d="M 829.75 666.83 L 822.45 667.09 C 817.79 667.35 815.30 671.62 815.46 674.98 C 815.61 678.47 819.81 679.12 823.23 677.05 C 827.11 674.20 826.49 667.73 822.14 667.22" fill="none" stroke="#000" stroke-width="1.76" stroke-linecap="round" stroke-linejoin="round"/>
<path d="M 838.92 677.65 C 836.37 677.05 833.10 678.26 832.68 680.94 C 832.39 683.08 834.95 683.75 837.93 682.88 M 833.24 680.40 L 837.36 680.40" fill="none" stroke="#000" stroke-width="1.30" stroke-linecap="round" stroke-linejoin="round"/>
<path d="M 841.74 682.03 C 842.18 680.55 843.69 680.28 843.57 682.16 C 843.44 683.37 842.94 684.57 843.12 685.51 C 843.31 686.72 845.01 686.85 846.21 685.38 C 847.41 683.83 847.85 681.82 847.41 680.55" fill="none" stroke="#000" stroke-width="1.30" stroke-linecap="round" stroke-linejoin="round"/>
<path d="M852.40 633.90L864.20 639.80L852.40 645.70" fill="none" stroke="#000" stroke-width="1.60" stroke-linecap="round" stroke-linejoin="miter"/>
<text class="fr" transform="matrix(0.23123 0 0 0.22970 866.72 645.78)">0</text>
<path d="M864.20 672.60L852.40 678.25L864.20 683.90" fill="none" stroke="#000" stroke-width="1.60" stroke-linecap="round" stroke-linejoin="miter"/>
<text class="fr" transform="matrix(0.23123 0 0 0.22970 866.72 684.48)">0</text>
<rect x="751.0" y="841.5" width="131.4" height="81.4" fill="#fff" stroke="#909090" stroke-width="1.4"/>
<line x1="755.0" y1="862.4" x2="790.4" y2="862.4" stroke="#0000ff" stroke-width="2.6"/>
<line x1="756.3" y1="901.6" x2="789.2" y2="901.6" stroke="#ff0000" stroke-width="2.6" stroke-dasharray="5.4,8.8" stroke-linecap="round"/>
<path d="M 805.06 857.96 C 801.21 856.80 796.28 859.12 795.64 864.28 C 795.21 868.41 799.07 869.70 803.56 868.02 M 796.50 863.25 L 802.71 863.25" fill="none" stroke="#000" stroke-width="1.59" stroke-linecap="round" stroke-linejoin="round"/>
<path d="M 807.99 867.18 C 808.63 864.85 810.80 864.43 810.62 867.39 C 810.44 869.29 809.71 871.19 809.99 872.67 C 810.26 874.57 812.70 874.78 814.42 872.46 C 816.15 870.03 816.78 866.86 816.15 864.85" fill="none" stroke="#000" stroke-width="1.44" stroke-linecap="round" stroke-linejoin="round"/>
<path d="M831.40 853.90L849.70 862.25L831.40 870.60" fill="none" stroke="#000" stroke-width="1.80" stroke-linecap="round" stroke-linejoin="miter"/>
<text class="fr" transform="matrix(0.31853 0 0 0.33343 862.39 871.17)">0</text>
<path d="M 805.03 897.04 C 801.20 895.83 796.31 898.25 795.67 903.63 C 795.24 907.93 799.07 909.27 803.54 907.52 M 796.52 902.55 L 802.69 902.55" fill="none" stroke="#000" stroke-width="1.66" stroke-linecap="round" stroke-linejoin="round"/>
<path d="M 807.99 906.28 C 808.63 903.95 810.80 903.53 810.62 906.49 C 810.44 908.39 809.71 910.29 809.99 911.77 C 810.26 913.67 812.70 913.88 814.42 911.56 C 816.15 909.13 816.78 905.96 816.15 903.95" fill="none" stroke="#000" stroke-width="1.44" stroke-linecap="round" stroke-linejoin="round"/>
<path d="M849.70 893.40L831.90 901.75L849.70 910.10" fill="none" stroke="#000" stroke-width="1.80" stroke-linecap="round" stroke-linejoin="miter"/>
<text class="fr" transform="matrix(0.31853 0 0 0.33491 862.39 910.27)">0</text>
<rect x="789.0" y="1258.0" width="94.7" height="52.0" fill="#fff" stroke="#909090" stroke-width="1.4"/>
<line x1="792.3" y1="1284.5" x2="826.8" y2="1284.5" stroke="#000" stroke-width="2.6"/>
<path d="M 839.10 1277.88 L 832.88 1300.57 M 835.58 1289.35 C 834.96 1293.74 837.44 1295.21 840.96 1294.47 C 844.27 1293.74 846.55 1291.79 847.79 1289.35 M 849.86 1278.13 L 847.58 1290.57 C 846.96 1293.50 848.62 1294.72 850.07 1293.01 L 851.93 1289.35" fill="none" stroke="#000" stroke-width="2.30" stroke-linecap="round" stroke-linejoin="round"/>
<path d="M 863.79 1289.42 C 860.69 1288.40 856.73 1290.43 856.21 1294.95 C 855.87 1298.57 858.97 1299.70 862.58 1298.23 M 856.90 1294.05 L 861.89 1294.05" fill="none" stroke="#000" stroke-width="1.40" stroke-linecap="round" stroke-linejoin="round"/>
<path d="M 867.87 1298.00 C 868.39 1296.15 870.17 1295.82 870.02 1298.17 C 869.87 1299.68 869.28 1301.19 869.50 1302.37 C 869.72 1303.88 871.72 1304.05 873.13 1302.20 C 874.53 1300.27 875.05 1297.75 874.53 1296.15" fill="none" stroke="#000" stroke-width="1.30" stroke-linecap="round" stroke-linejoin="round"/>
</svg></body></html>
